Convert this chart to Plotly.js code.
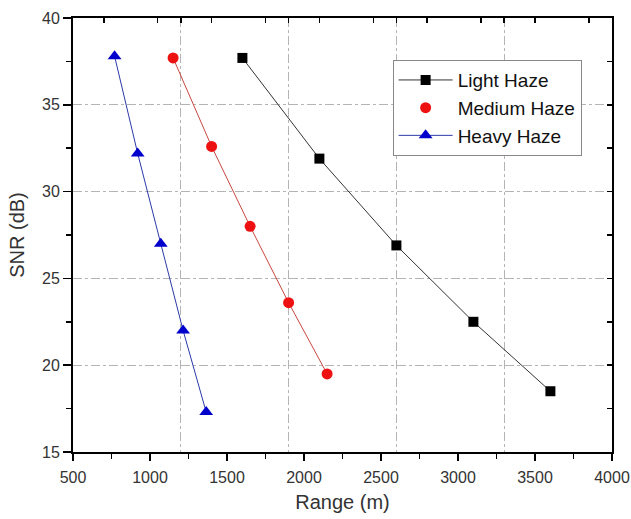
<!DOCTYPE html>
<html>
<head>
<meta charset="utf-8">
<script src="https://cdn.plot.ly/plotly-3.0.1.min.js"></script>
<style>html,body{margin:0;padding:0;background:#fff;}#chart{width:631px;height:519px;}</style>
</head>
<body>
<div id="chart"></div>
<script>
// Data
const lightRange = [1600, 2100, 2600, 3100, 3600];
const lightSNR = [37.7, 31.9, 26.9, 22.5, 18.5];
const mediumRange = [1150, 1400, 1650, 1900, 2150];
const mediumSNR = [37.7, 32.6, 28.0, 23.6, 19.5];
const heavyRange = [770, 920, 1070, 1215, 1365];
const heavySNR = [37.8, 32.2, 27.0, 22.0, 17.3];
const seriesNames = ["Light Haze", "Medium Haze", "Heavy Haze"];

const FONT = "Liberation Sans, Arial, sans-serif";
const GRID = "#b4b4b4";

const traces = [
  {x: [], y: [], xaxis: "x2", yaxis: "y", showlegend: false, hoverinfo: "skip", mode: "markers"},
  {x: [], y: [], xaxis: "x", yaxis: "y2", showlegend: false, hoverinfo: "skip", mode: "markers"},
  {x: lightRange, y: lightSNR, name: seriesNames[0], mode: "lines+markers",
   line: {color: "#333333", width: 1},
   marker: {symbol: "square", size: 10, color: "#000000"}},
  {x: mediumRange, y: mediumSNR, name: seriesNames[1], mode: "lines", showlegend: false,
   line: {color: "#c8473f", width: 1}, hoverinfo: "skip"},
  {x: mediumRange, y: mediumSNR, name: seriesNames[1], mode: "markers",
   marker: {symbol: "circle", size: 11, color: "#ee1111"}},
  {x: heavyRange, y: heavySNR, name: seriesNames[2], mode: "lines+markers",
   line: {color: "#2b3aa8", width: 1},
   marker: {symbol: "triangle-up", size: 12, color: "#0000cc"}}
];

const layout = {
  width: 631, height: 519,
  margin: {l: 73, r: 19, t: 18, b: 67},
  paper_bgcolor: "#ffffff", plot_bgcolor: "#ffffff",
  font: {family: FONT, size: 16, color: "#222"},
  showlegend: true,
  legend: {x: 0.593, y: 0.903, xanchor: "left", yanchor: "top",
    bordercolor: "#888", borderwidth: 1, bgcolor: "#fff", itemwidth: 54,
    font: {family: FONT, size: 19, color: "#111"}, tracegroupgap: 0},
  xaxis: {range: [500, 4000], dtick: 500, tick0: 500, ticks: "outside", ticklen: 7, tickwidth: 1.5,
    tickcolor: "#000", showline: true, linecolor: "#000", linewidth: 2, showgrid: false, zeroline: false,
    minor: {ticks: "outside", ticklen: 5, dtick: 250, tickcolor: "#000", showgrid: false},
    ticklabelstandoff: 3,
    tickfont: {family: FONT, size: 16, color: "#333"},
    title: {text: "Range (m)", font: {family: FONT, size: 20, color: "#333"}, standoff: 10}},
  xaxis2: {overlaying: "x", side: "top", anchor: "y", range: [500, 4000], tick0: 500, dtick: 700,
    ticks: "inside", ticklen: 5, tickcolor: "#000", tickwidth: 1.5, showticklabels: false,
    showline: true, linecolor: "#000", linewidth: 2, zeroline: false,
    showgrid: true, gridcolor: GRID, griddash: "dashdot", gridwidth: 1,
    minor: {ticks: "inside", ticklen: 5, dtick: 350, tickcolor: "#000", showgrid: false}},
  yaxis: {range: [15, 40], dtick: 5, tick0: 15, ticks: "outside", ticklen: 8, tickwidth: 1.5,
    tickcolor: "#000", showline: true, linecolor: "#000", linewidth: 2, zeroline: false,
    showgrid: true, gridcolor: GRID, griddash: "dashdot", gridwidth: 1,
    minor: {ticks: "outside", ticklen: 5, dtick: 2.5, tickcolor: "#000", showgrid: false},
    tickfont: {family: FONT, size: 16, color: "#333"},
    title: {text: "SNR (dB)", font: {family: FONT, size: 20, color: "#333"}, standoff: 12}},
  yaxis2: {overlaying: "y", side: "right", anchor: "x", range: [15, 40], tick0: 15, dtick: 2.5,
    ticks: "inside", ticklen: 5, tickcolor: "#000", tickwidth: 1.5, showticklabels: false,
    showline: true, linecolor: "#000", linewidth: 2, zeroline: false, showgrid: false}
};

Plotly.newPlot("chart", traces, layout, {displayModeBar: false, staticPlot: true});
</script>
</body>
</html>
